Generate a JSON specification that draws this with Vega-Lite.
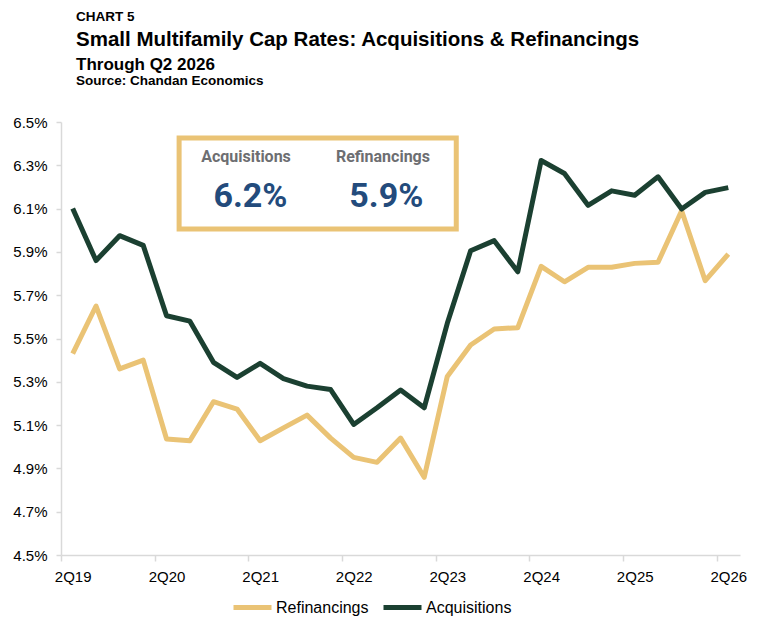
{
  "$schema": "https://vega.github.io/schema/vega-lite/v6.json",
  "description": "Small Multifamily Cap Rates: Acquisitions & Refinancings",
  "padding": {"left": 12, "top": 9, "right": 10, "bottom": 10},
  "title": {"text": "CHART 5", "fontSize": 13.5, "fontWeight": "bold", "dx": 15, "offset": 7},
  "vconcat": [
    {
      "title": {
        "text": "Small Multifamily Cap Rates: Acquisitions & Refinancings",
        "subtitle": "Through Q2 2026",
        "fontSize": 20.5,
        "fontWeight": "bold",
        "subtitleFontSize": 17,
        "subtitleFontWeight": "bold",
        "subtitleColor": "#000000",
        "subtitlePadding": 6,
        "dx": 15,
        "offset": 1
      },
      "vconcat": [
        {
          "title": {"text": "Source: Chandan Economics", "fontSize": 13.5, "fontWeight": "bold", "dx": 15, "offset": 28},
          "width": 679,
          "height": 433,
          "data": {
            "values": [
              {"quarter": "2019-04-01", "Acquisitions": 6.10, "Refinancings": 5.43},
              {"quarter": "2019-07-01", "Acquisitions": 5.86, "Refinancings": 5.65},
              {"quarter": "2019-10-01", "Acquisitions": 5.975, "Refinancings": 5.36},
              {"quarter": "2020-01-01", "Acquisitions": 5.93, "Refinancings": 5.40},
              {"quarter": "2020-04-01", "Acquisitions": 5.605, "Refinancings": 5.036},
              {"quarter": "2020-07-01", "Acquisitions": 5.58, "Refinancings": 5.028},
              {"quarter": "2020-10-01", "Acquisitions": 5.39, "Refinancings": 5.208},
              {"quarter": "2021-01-01", "Acquisitions": 5.32, "Refinancings": 5.174},
              {"quarter": "2021-04-01", "Acquisitions": 5.385, "Refinancings": 5.028},
              {"quarter": "2021-07-01", "Acquisitions": 5.315, "Refinancings": 5.087},
              {"quarter": "2021-10-01", "Acquisitions": 5.28, "Refinancings": 5.146},
              {"quarter": "2022-01-01", "Acquisitions": 5.264, "Refinancings": 5.04},
              {"quarter": "2022-04-01", "Acquisitions": 5.103, "Refinancings": 4.951},
              {"quarter": "2022-07-01", "Acquisitions": 5.18, "Refinancings": 4.928},
              {"quarter": "2022-10-01", "Acquisitions": 5.262, "Refinancings": 5.04},
              {"quarter": "2023-01-01", "Acquisitions": 5.18, "Refinancings": 4.859},
              {"quarter": "2023-04-01", "Acquisitions": 5.57, "Refinancings": 5.325},
              {"quarter": "2023-07-01", "Acquisitions": 5.905, "Refinancings": 5.47},
              {"quarter": "2023-10-01", "Acquisitions": 5.952, "Refinancings": 5.544},
              {"quarter": "2024-01-01", "Acquisitions": 5.808, "Refinancings": 5.55},
              {"quarter": "2024-04-01", "Acquisitions": 6.322, "Refinancings": 5.833},
              {"quarter": "2024-07-01", "Acquisitions": 6.262, "Refinancings": 5.762},
              {"quarter": "2024-10-01", "Acquisitions": 6.115, "Refinancings": 5.829},
              {"quarter": "2025-01-01", "Acquisitions": 6.182, "Refinancings": 5.829},
              {"quarter": "2025-04-01", "Acquisitions": 6.162, "Refinancings": 5.847},
              {"quarter": "2025-07-01", "Acquisitions": 6.247, "Refinancings": 5.852},
              {"quarter": "2025-10-01", "Acquisitions": 6.098, "Refinancings": 6.09},
              {"quarter": "2026-01-01", "Acquisitions": 6.175, "Refinancings": 5.767},
              {"quarter": "2026-04-01", "Acquisitions": 6.197, "Refinancings": 5.89}
            ]
          },
          "layer": [
            {
              "transform": [{"fold": ["Refinancings", "Acquisitions"], "as": ["series", "rate"]}],
              "mark": {"type": "line", "strokeWidth": 5, "strokeJoin": "round"},
              "encoding": {
                "x": {
                  "field": "quarter",
                  "type": "temporal",
                  "scale": {
                    "type": "utc",
                    "domain": [
                      {"year": 2019, "month": 2, "date": 14, "hours": 8, "utc": true},
                      {"year": 2026, "month": 5, "date": 16, "hours": 16, "utc": true}
                    ]
                  },
                  "axis": {
                    "title": null,
                    "grid": false,
                    "values": [
                      {"year": 2019, "month": 4, "date": 1, "utc": true},
                      {"year": 2020, "month": 4, "date": 1, "utc": true},
                      {"year": 2021, "month": 4, "date": 1, "utc": true},
                      {"year": 2022, "month": 4, "date": 1, "utc": true},
                      {"year": 2023, "month": 4, "date": 1, "utc": true},
                      {"year": 2024, "month": 4, "date": 1, "utc": true},
                      {"year": 2025, "month": 4, "date": 1, "utc": true},
                      {"year": 2026, "month": 4, "date": 1, "utc": true}
                    ],
                    "labelExpr": "'2Q' + utcFormat(datum.value, '%y')",
                    "tickOffset": -11.7,
                    "labelOffset": 11.7,
                    "labelFlush": false,
                    "labelOverlap": false,
                    "domainColor": "#D9D9D9",
                    "domainWidth": 1.5,
                    "tickColor": "#D9D9D9",
                    "tickWidth": 1.5,
                    "tickSize": 6,
                    "labelFontSize": 15,
                    "labelColor": "#000000",
                    "labelPadding": 8
                  }
                },
                "y": {
                  "field": "rate",
                  "type": "quantitative",
                  "scale": {"domain": [4.5, 6.5], "nice": false, "zero": false},
                  "axis": {
                    "title": null,
                    "grid": false,
                    "values": [4.5, 4.7, 4.9, 5.1, 5.3, 5.5, 5.7, 5.9, 6.1, 6.3, 6.5],
                    "labelExpr": "format(datum.value, '.1f') + '%'",
                    "domainColor": "#D9D9D9",
                    "domainWidth": 1.5,
                    "tickColor": "#D9D9D9",
                    "tickWidth": 1.5,
                    "tickSize": 5,
                    "labelFontSize": 15,
                    "labelColor": "#000000",
                    "labelPadding": 9
                  }
                },
                "color": {
                  "field": "series",
                  "type": "nominal",
                  "scale": {"domain": ["Refinancings", "Acquisitions"], "range": ["#EAC375", "#1B4031"]},
                  "legend": {
                    "title": null,
                    "orient": "none",
                    "legendX": 170,
                    "legendY": 464,
                    "direction": "horizontal",
                    "gridAlign": "none",
                    "symbolType": "stroke",
                    "symbolStrokeWidth": 5,
                    "symbolSize": 1444,
                    "labelFontSize": 16,
                    "labelColor": "#000000",
                    "labelOffset": 2,
                    "columnPadding": 4
                  }
                }
              }
            },
            {
              "data": {"values": [{}]},
              "mark": {"type": "rect", "filled": false, "stroke": "#EAC375", "strokeWidth": 5},
              "encoding": {
                "x": {"datum": {"year": 2020, "month": 5, "date": 20, "utc": true}, "type": "temporal"},
                "x2": {"datum": {"year": 2023, "month": 5, "date": 6, "utc": true}},
                "y": {"datum": 6.006, "type": "quantitative"},
                "y2": {"datum": 6.426}
              }
            },
            {
              "data": {
                "values": [
                  {"label": "Acquisitions", "at": "2021-02-05", "level": 6.314},
                  {"label": "Refinancings", "at": "2022-07-24", "level": 6.314}
                ]
              },
              "mark": {
                "type": "text",
                "font": "Roboto",
                "fontWeight": "bold",
                "fontSize": 16,
                "color": "#6D6E71",
                "baseline": "alphabetic",
                "align": "center"
              },
              "encoding": {
                "x": {"field": "at", "type": "temporal"},
                "y": {"field": "level", "type": "quantitative"},
                "text": {"field": "label"}
              }
            },
            {
              "data": {
                "values": [
                  {"label": "6.2%", "at": "2021-02-22", "level": 6.106},
                  {"label": "5.9%", "at": "2022-08-06", "level": 6.106}
                ]
              },
              "mark": {
                "type": "text",
                "font": "Roboto",
                "fontWeight": "bold",
                "fontSize": 34,
                "color": "#234B7C",
                "baseline": "alphabetic",
                "align": "center"
              },
              "encoding": {
                "x": {"field": "at", "type": "temporal"},
                "y": {"field": "level", "type": "quantitative"},
                "text": {"field": "label"}
              }
            }
          ]
        }
      ]
    }
  ],
  "config": {
    "font": "Liberation Sans",
    "view": {"stroke": null},
    "title": {"anchor": "start", "frame": "group", "color": "#000000", "font": "Liberation Sans", "baseline": "top"},
    "concat": {"spacing": 0}
  }
}
